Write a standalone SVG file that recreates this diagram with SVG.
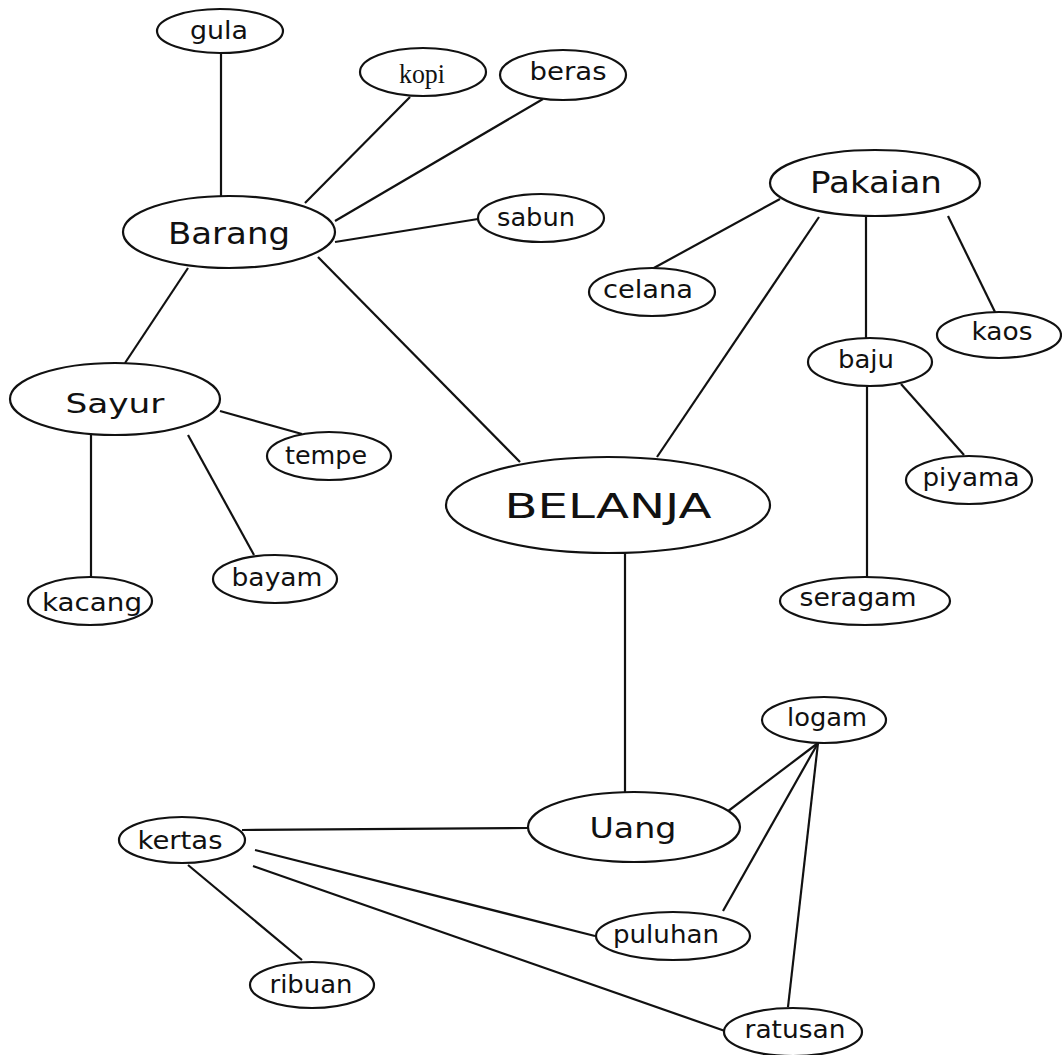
<svg xmlns="http://www.w3.org/2000/svg" width="1062" height="1055" viewBox="0 0 1062 1055">
<style>
.n ellipse{fill:#fff;stroke:#111;stroke-width:2.2}
.n text{font-family:"DejaVu Sans","Noto Sans",sans-serif;fill:#111;text-anchor:middle}
.s text{font-size:24px}
.m text{font-size:31px}
.serif text{font-family:"Liberation Serif","Times New Roman",serif;font-size:27px}
#edges line{stroke:#111;stroke-width:2.2}
</style>
<rect width="1062" height="1055" fill="#fff"/>
<g id="edges">
<line x1="221" y1="52" x2="221" y2="196"/>
<line x1="410" y1="97" x2="305" y2="203"/>
<line x1="543" y1="99" x2="335" y2="221"/>
<line x1="478" y1="219" x2="335" y2="242"/>
<line x1="188" y1="268" x2="125" y2="363"/>
<line x1="318" y1="257" x2="520" y2="462"/>
<line x1="780" y1="199" x2="652" y2="269"/>
<line x1="819" y1="217" x2="657" y2="457"/>
<line x1="866" y1="217" x2="866" y2="338"/>
<line x1="948" y1="216" x2="995" y2="312"/>
<line x1="867" y1="383" x2="867" y2="577"/>
<line x1="901" y1="384" x2="964" y2="455"/>
<line x1="220" y1="411" x2="302" y2="434"/>
<line x1="188" y1="435" x2="254" y2="555"/>
<line x1="91" y1="435" x2="91" y2="578"/>
<line x1="625" y1="552" x2="625" y2="792"/>
<line x1="242" y1="830" x2="528" y2="828"/>
<line x1="255" y1="850" x2="595" y2="936"/>
<line x1="253" y1="866" x2="725" y2="1031"/>
<line x1="188" y1="865" x2="302" y2="960"/>
<line x1="723" y1="815" x2="818" y2="743"/>
<line x1="818" y1="743" x2="723" y2="911"/>
<line x1="818" y1="743" x2="788" y2="1007"/>
</g>
<g id="gula" class="n s"><ellipse cx="220" cy="31" rx="63" ry="22"/><text x="219" y="39" textLength="58" lengthAdjust="spacingAndGlyphs">gula</text></g>
<g id="kopi" class="n serif"><ellipse cx="423" cy="72" rx="63" ry="24"/><text x="422" y="83" textLength="46" lengthAdjust="spacingAndGlyphs">kopi</text></g>
<g id="beras" class="n s"><ellipse cx="563" cy="75" rx="63" ry="25"/><text x="568" y="80" textLength="77" lengthAdjust="spacingAndGlyphs">beras</text></g>
<g id="sabun" class="n s"><ellipse cx="541" cy="218" rx="63" ry="24"/><text x="536" y="226" textLength="78" lengthAdjust="spacingAndGlyphs">sabun</text></g>
<g id="barang" class="n m"><ellipse cx="229" cy="232" rx="106" ry="36"/><text x="229" y="244" textLength="122" lengthAdjust="spacingAndGlyphs">Barang</text></g>
<g id="pakaian" class="n m"><ellipse cx="875" cy="183" rx="105" ry="33"/><text x="876" y="193" textLength="132" lengthAdjust="spacingAndGlyphs">Pakaian</text></g>
<g id="celana" class="n s"><ellipse cx="652" cy="292" rx="63" ry="24"/><text x="648" y="298" textLength="90" lengthAdjust="spacingAndGlyphs">celana</text></g>
<g id="kaos" class="n s"><ellipse cx="999" cy="335" rx="62" ry="23"/><text x="1002" y="340" textLength="61" lengthAdjust="spacingAndGlyphs">kaos</text></g>
<g id="baju" class="n s"><ellipse cx="870" cy="362" rx="62" ry="24"/><text x="866" y="368" textLength="56" lengthAdjust="spacingAndGlyphs">baju</text></g>
<g id="piyama" class="n s"><ellipse cx="969" cy="480" rx="63" ry="24"/><text x="971" y="486" textLength="97" lengthAdjust="spacingAndGlyphs">piyama</text></g>
<g id="seragam" class="n s"><ellipse cx="865" cy="601" rx="85" ry="24"/><text x="858" y="606" textLength="117" lengthAdjust="spacingAndGlyphs">seragam</text></g>
<g id="sayur" class="n m"><ellipse cx="115" cy="399" rx="105" ry="36"/><text x="115" y="413" style="font-size:27px" textLength="99" lengthAdjust="spacingAndGlyphs">Sayur</text></g>
<g id="tempe" class="n s"><ellipse cx="329" cy="456" rx="62" ry="24"/><text x="326" y="464" textLength="82" lengthAdjust="spacingAndGlyphs">tempe</text></g>
<g id="bayam" class="n s"><ellipse cx="275" cy="579" rx="62" ry="24"/><text x="277" y="586" textLength="91" lengthAdjust="spacingAndGlyphs">bayam</text></g>
<g id="kacang" class="n s"><ellipse cx="90" cy="601" rx="62" ry="24"/><text x="92" y="611" textLength="100" lengthAdjust="spacingAndGlyphs">kacang</text></g>
<g id="belanja" class="n"><ellipse cx="608" cy="505" rx="162" ry="48"/><text x="608" y="518" style="font-size:34px" textLength="207" lengthAdjust="spacingAndGlyphs">BELANJA</text></g>
<g id="uang" class="n m"><ellipse cx="634" cy="827" rx="106" ry="35"/><text x="633" y="838" style="font-size:29px" textLength="87" lengthAdjust="spacingAndGlyphs">Uang</text></g>
<g id="logam" class="n s"><ellipse cx="824" cy="720" rx="62" ry="23"/><text x="827" y="726" textLength="80" lengthAdjust="spacingAndGlyphs">logam</text></g>
<g id="kertas" class="n s"><ellipse cx="182" cy="840" rx="63" ry="23"/><text x="180" y="849" textLength="85" lengthAdjust="spacingAndGlyphs">kertas</text></g>
<g id="ribuan" class="n s"><ellipse cx="312" cy="985" rx="62" ry="23"/><text x="311" y="993" textLength="83" lengthAdjust="spacingAndGlyphs">ribuan</text></g>
<g id="puluhan" class="n s"><ellipse cx="673" cy="936" rx="77" ry="24"/><text x="666" y="943" textLength="106" lengthAdjust="spacingAndGlyphs">puluhan</text></g>
<g id="ratusan" class="n s"><ellipse cx="793" cy="1032" rx="69" ry="24"/><text x="795" y="1038" textLength="101" lengthAdjust="spacingAndGlyphs">ratusan</text></g>
</svg>
